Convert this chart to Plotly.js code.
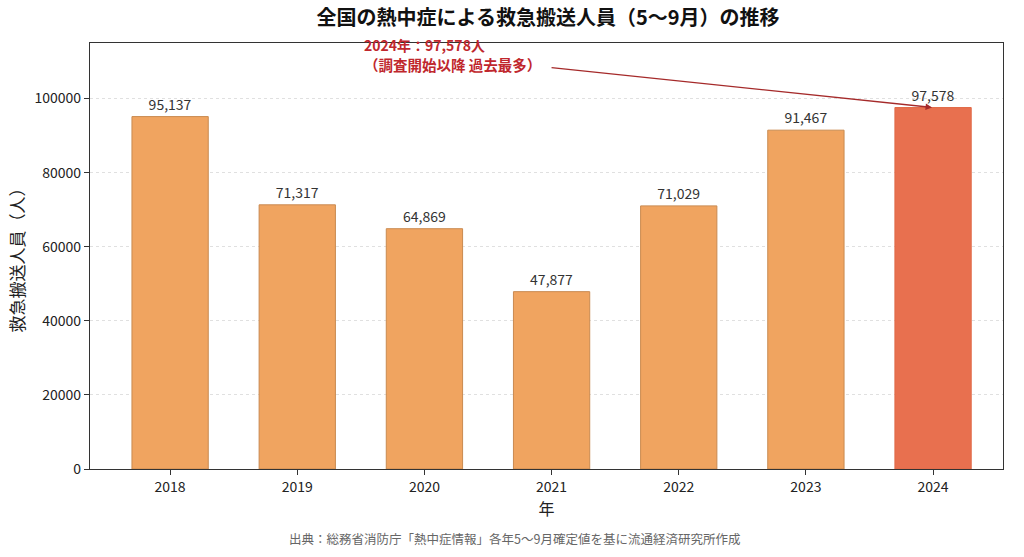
<!DOCTYPE html>
<html><head><meta charset="utf-8">
<script src="https://cdn.plot.ly/plotly-3.0.1.min.js"></script>
<style>html,body{margin:0;padding:0;background:#fff}#chart{width:1024px;height:557px}</style>
</head><body><div id="chart"></div>
<script>
const years = ['2018','2019','2020','2021','2022','2023','2024'];
const values = [95137, 71317, 64869, 47877, 71029, 91467, 97578];
const yTicks = [0, 20000, 40000, 60000, 80000, 100000];
const titleText = '全国の熱中症による救急搬送人員（5〜9月）の推移';
const xTitle = '年';
const yTitle = '救急搬送人員（人）';
const noteLine1 = '2024年：97,578人';
const noteLine2 = '（調査開始以降 過去最多）';
const sourceText = '出典：総務省消防庁「熱中症情報」各年5〜9月確定値を基に流通経済研究所作成';

const F = '"Noto Sans CJK JP", "Noto Sans", sans-serif';
const last = years.length - 1;
const colors = values.map((v,i)=> i===last ? '#E8704F' : '#F0A460');
const lines = values.map((v,i)=> i===last ? '#E06A48' : '#C98A50');

const trace = {
  type:'bar', x: years, y: values, width: 0.6,
  marker:{color: colors, line:{color: lines, width:1}},
  text: values.map(v=>v.toLocaleString('en-US')),
  textposition:'outside', cliponaxis:false,
  textfont:{family:F, size:14, color:'#333'},
  hoverinfo:'x+y'
};

const H = 426; // plot height px
const layout = {
  width:1024, height:557,
  margin:{l:90, r:21, t:43, b:88},
  paper_bgcolor:'#fff', plot_bgcolor:'#fff',
  font:{family:F, color:'#222'},
  showlegend:false,
  title:{text:'<b>'+titleText+'</b>', font:{family:F, size:20, color:'#111'}, x:(548)/1024, xanchor:'center', y:1-18/557, yanchor:'middle'},
  xaxis:{type:'category', range:[-0.63, 6.55], title:{text:xTitle, font:{family:F, size:16, color:'#222'}, standoff:7},
    tickfont:{family:F, size:14, color:'#222'}, ticks:'outside', ticklen:5, tickcolor:'#333',
    showline:true, linecolor:'#333', linewidth:1.2, mirror:true, showgrid:false, zeroline:false},
  yaxis:{range:[0, 115000], tickvals:yTicks, ticktext:yTicks.map(String),
    title:{text:yTitle, font:{family:F, size:17, color:'#222'}, standoff:5},
    tickfont:{family:F, size:14, color:'#222'}, ticks:'outside', ticklen:5, tickcolor:'#333',
    showline:true, linecolor:'#333', linewidth:1.2, mirror:true,
    showgrid:true, gridcolor:'#e0e0e0', griddash:'dot', gridwidth:1, zeroline:false},
  annotations:[
    {x: last, y: values[last], xref:'x', yref:'y', ax: -383, ay: -40, axref:'pixel', ayref:'pixel',
     text:'', showarrow:true, arrowhead:2, arrowsize:1, arrowwidth:1.3, arrowcolor:'#A52A2A', standoff:1},
    {xref:'paper', yref:'paper', x:(362-90)/913, y:1-(45-43)/H, xanchor:'left', yanchor:'middle', align:'left',
     text:'<b>'+noteLine1+'</b>', showarrow:false, font:{family:F, size:14, color:'#C0272D'}},
    {xref:'paper', yref:'paper', x:(362-90)/913, y:1-(64-43)/H, xanchor:'left', yanchor:'middle', align:'left',
     text:'<b>'+noteLine2+'</b>', showarrow:false, font:{family:F, size:14.5, color:'#C0272D'}},
    {xref:'paper', yref:'paper', x:(514-90)/913, y:-(538-469)/H, xanchor:'center', yanchor:'middle',
     text:sourceText, showarrow:false, font:{family:F, size:12.5, color:'#666'}}
  ]
};
Plotly.newPlot('chart', [trace], layout, {displayModeBar:false, staticPlot:true});
</script></body></html>
